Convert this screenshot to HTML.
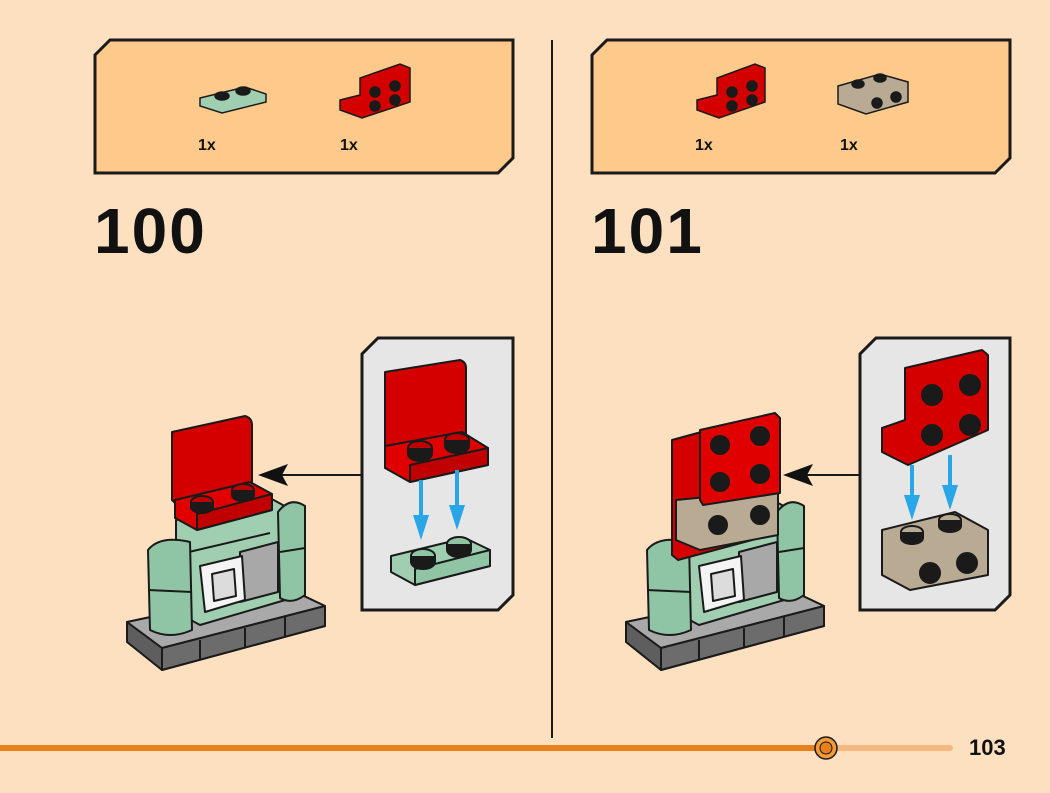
<!DOCTYPE html>
<html><head><meta charset="utf-8"><style>
html,body{margin:0;padding:0;background:#fde0c0;}
svg{display:block}
text{font-family:"Liberation Sans",sans-serif;font-weight:bold;fill:#111}
</style></head><body>
<svg width="1050" height="793" viewBox="0 0 1050 793" xmlns="http://www.w3.org/2000/svg">
<defs>
<g id="body" stroke="#1a1a1a" stroke-width="2" stroke-linejoin="round">
  <polygon points="127,622 287,588 325,606 325,626 162,670 127,642" fill="#5e5e5e"/>
  <polygon points="127,622 287,588 325,606 162,648" fill="#a9a9a9"/>
  <polygon points="162,648 325,606 325,626 162,670" fill="#6c6c6c"/>
  <line x1="200" y1="640" x2="200" y2="660" /><line x1="245" y1="628" x2="245" y2="648"/><line x1="285" y1="617" x2="285" y2="637"/>
  <polygon points="176,520 270,498 292,510 292,598 200,625 176,612" fill="#9fcfb0"/>
  <line x1="176" y1="555" x2="270" y2="533" />
  <path d="M278,512 Q290,496 305,506 L305,595 Q292,605 280,598 Z" fill="#8fc5a4"/>
  <line x1="280" y1="552" x2="305" y2="548"/>
  <polygon points="240,552 278,542 278,592 240,602" fill="#a8a8a8"/>
  <polygon points="200,566 242,556 245,600 205,612" fill="#f4f4f4"/>
  <polygon points="212,574 234,569 236,596 214,601" fill="#dcdcdc"/>
  <path d="M148,550 Q160,535 190,542 L192,630 Q170,640 150,630 Z" fill="#8fc5a4"/>
  <line x1="148" y1="590" x2="192" y2="592"/>
</g>
</defs>

<polygon points="110,40 513,40 513,158 498,173 95,173 95,55" fill="#fdca8b" stroke="#1a1a1a" stroke-width="3"/>
<polygon points="607,40 1010,40 1010,158 995,173 592,173 592,55" fill="#fdca8b" stroke="#1a1a1a" stroke-width="3"/>

<g stroke="#1a1a1a" stroke-width="1.5">
 <polygon points="200,98 245,87 266,94 266,102 222,113 200,106" fill="#9fcfb0"/>
 <ellipse cx="222" cy="96" rx="7" ry="4" fill="#1a1a1a"/><ellipse cx="243" cy="91" rx="7" ry="4" fill="#1a1a1a"/>
 <polygon points="340,100 360,95 360,78 400,64 410,68 410,102 362,118 340,110" fill="#d40000"/>
 <circle cx="375" cy="92" r="5" fill="#1a1a1a"/><circle cx="395" cy="86" r="5" fill="#1a1a1a"/>
 <circle cx="375" cy="106" r="5" fill="#1a1a1a"/><circle cx="395" cy="100" r="5" fill="#1a1a1a"/>
 <polygon points="697,100 717,95 717,78 755,64 765,68 765,102 719,118 697,110" fill="#d40000"/>
 <circle cx="732" cy="92" r="5" fill="#1a1a1a"/><circle cx="752" cy="86" r="5" fill="#1a1a1a"/>
 <circle cx="732" cy="106" r="5" fill="#1a1a1a"/><circle cx="752" cy="100" r="5" fill="#1a1a1a"/>
 <polygon points="838,86 880,74 908,82 908,102 866,114 838,104" fill="#b9ab93"/>
 <ellipse cx="858" cy="84" rx="6" ry="4" fill="#1a1a1a"/><ellipse cx="880" cy="78" rx="6" ry="4" fill="#1a1a1a"/>
 <circle cx="877" cy="103" r="5" fill="#1a1a1a"/><circle cx="896" cy="97" r="5" fill="#1a1a1a"/>
</g>
<text x="198" y="150" font-size="16">1x</text>
<text x="340" y="150" font-size="16">1x</text>
<text x="695" y="150" font-size="16">1x</text>
<text x="840" y="150" font-size="16">1x</text>

<text x="94" y="253" font-size="64" letter-spacing="2">100</text>
<text x="591" y="253" font-size="64" letter-spacing="2">101</text>

<line x1="552" y1="40" x2="552" y2="738" stroke="#1a1a1a" stroke-width="2"/>

<polygon points="378,338 513,338 513,595 498,610 362,610 362,354" fill="#e6e6e6" stroke="#1a1a1a" stroke-width="3"/>
<polygon points="876,338 1010,338 1010,595 995,610 860,610 860,354" fill="#e6e6e6" stroke="#1a1a1a" stroke-width="3"/>

<line x1="362" y1="475" x2="280" y2="475" stroke="#1a1a1a" stroke-width="2"/>
<polygon points="258,475 288,464 282,475 288,486" fill="#111"/>
<line x1="860" y1="475" x2="806" y2="475" stroke="#1a1a1a" stroke-width="2"/>
<polygon points="783,475 813,464 807,475 813,486" fill="#111"/>

<use href="#body"/>
<use href="#body" transform="translate(499,0)"/>

<g stroke="#1a1a1a" stroke-width="2" stroke-linejoin="round">
 <path d="M172,432 L245,416 Q252,418 252,425 L252,488 L177,505 L172,500 Z" fill="#d40000"/>
 <polygon points="175,500 250,482 272,494 272,510 197,530 175,518" fill="#e00000"/>
 <polygon points="197,514 272,494 272,510 197,530" fill="#c00000"/>
 <ellipse cx="202" cy="502" rx="11" ry="6" fill="#c00000"/><path d="M191,502 v5 a11,6 0 0 0 22,0 v-5" fill="#1a1a1a"/>
 <ellipse cx="243" cy="490" rx="11" ry="6" fill="#c00000"/><path d="M232,490 v5 a11,6 0 0 0 22,0 v-5" fill="#1a1a1a"/>

 <path d="M385,372 L460,360 Q466,362 466,368 L466,435 L388,450 L385,446 Z" fill="#d40000"/>
 <polygon points="385,446 462,432 488,448 488,465 410,482 385,468" fill="#e00000"/>
 <polygon points="410,465 488,448 488,465 410,482" fill="#c00000"/>
 <ellipse cx="420" cy="448" rx="12" ry="7" fill="#c00000"/><path d="M408,448 v6 a12,7 0 0 0 24,0 v-6" fill="#1a1a1a"/>
 <ellipse cx="457" cy="440" rx="12" ry="7" fill="#c00000"/><path d="M445,440 v6 a12,7 0 0 0 24,0 v-6" fill="#1a1a1a"/>
 <polygon points="391,556 465,538 490,550 490,566 415,585 391,572" fill="#9fcfb0"/>
 <polygon points="415,569 490,550 490,566 415,585" fill="#8fc5a4"/>
 <ellipse cx="423" cy="556" rx="12" ry="7" fill="#8fc5a4"/><path d="M411,556 v6 a12,7 0 0 0 24,0 v-6" fill="#1a1a1a"/>
 <ellipse cx="459" cy="544" rx="12" ry="7" fill="#8fc5a4"/><path d="M447,544 v6 a12,7 0 0 0 24,0 v-6" fill="#1a1a1a"/>

 <polygon points="672,440 745,420 752,425 752,540 678,560 672,555" fill="#d40000"/>
 <polygon points="676,500 778,490 778,535 700,550 676,540" fill="#b9ab93"/>
 <polygon points="700,430 775,413 780,418 780,493 703,505 700,500" fill="#e00000"/>
 <circle cx="720" cy="445" r="9" fill="#1a1a1a"/><circle cx="760" cy="436" r="9" fill="#1a1a1a"/>
 <circle cx="720" cy="482" r="9" fill="#1a1a1a"/><circle cx="760" cy="474" r="9" fill="#1a1a1a"/>
 <circle cx="718" cy="525" r="9" fill="#1a1a1a"/><circle cx="760" cy="515" r="9" fill="#1a1a1a"/>

 <polygon points="882,428 905,420 905,368 982,350 988,355 988,430 908,465 882,452" fill="#d40000"/>
 <circle cx="932" cy="395" r="10" fill="#1a1a1a"/><circle cx="970" cy="385" r="10" fill="#1a1a1a"/>
 <circle cx="932" cy="435" r="10" fill="#1a1a1a"/><circle cx="970" cy="425" r="10" fill="#1a1a1a"/>
 <polygon points="882,530 955,512 988,530 988,575 910,590 882,575" fill="#b9ab93"/>
 <ellipse cx="912" cy="532" rx="11" ry="6" fill="#b9ab93"/><path d="M901,532 v6 a11,6 0 0 0 22,0 v-6" fill="#1a1a1a"/>
 <ellipse cx="950" cy="520" rx="11" ry="6" fill="#b9ab93"/><path d="M939,520 v6 a11,6 0 0 0 22,0 v-6" fill="#1a1a1a"/>
 <circle cx="930" cy="573" r="10" fill="#1a1a1a"/><circle cx="967" cy="563" r="10" fill="#1a1a1a"/>
</g>

<g stroke="#29a6e8" stroke-width="4" fill="#29a6e8">
 <line x1="421" y1="480" x2="421" y2="520"/><polygon points="413,515 429,515 421,540" stroke="none"/>
 <line x1="457" y1="470" x2="457" y2="510"/><polygon points="449,505 465,505 457,530" stroke="none"/>
 <line x1="912" y1="465" x2="912" y2="500"/><polygon points="904,495 920,495 912,520" stroke="none"/>
 <line x1="950" y1="455" x2="950" y2="490"/><polygon points="942,485 958,485 950,510" stroke="none"/>
</g>

<line x1="0" y1="748" x2="826" y2="748" stroke="#e8811c" stroke-width="6"/>
<line x1="826" y1="748" x2="950" y2="748" stroke="#f6b880" stroke-width="6" stroke-linecap="round"/>
<circle cx="826" cy="748" r="11" fill="#f59a3c" stroke="#1a1a1a" stroke-width="1.5"/>
<circle cx="826" cy="748" r="6" fill="#e8811c" stroke="#1a1a1a" stroke-width="1"/>
<text x="969" y="755" font-size="22">103</text>
</svg>
</body></html>
